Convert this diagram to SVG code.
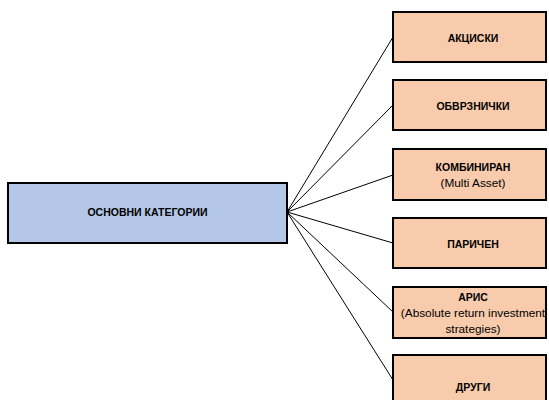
<svg xmlns="http://www.w3.org/2000/svg" width="549" height="400" viewBox="0 0 549 400">
<style>
.main{fill:#B4C7E7;stroke:#000;stroke-width:2}
.cat{fill:#F8CBAD;stroke:#000;stroke-width:2}
.b{font-family:"Liberation Sans",Arial,sans-serif;font-weight:bold;font-size:10.5px;fill:#000;text-anchor:middle}
.n{font-family:"Liberation Sans",Arial,sans-serif;font-size:11.8px;fill:#000;text-anchor:middle}
.c{stroke:#000;stroke-width:1;fill:none}
</style>
<rect width="549" height="400" fill="#fff"/>
<g id="connectors">
<line class="c" x1="287" y1="212" x2="393" y2="37"/>
<line class="c" x1="287" y1="212" x2="393" y2="105"/>
<line class="c" x1="287" y1="212" x2="393" y2="175"/>
<line class="c" x1="287" y1="212" x2="393" y2="243"/>
<line class="c" x1="287" y1="212" x2="393" y2="312"/>
<line class="c" x1="287" y1="212" x2="393" y2="380"/>
</g>
<g id="main">
<rect class="main" x="8" y="183" width="279" height="60"/>
<text class="b" x="147.5" y="216">ОСНОВНИ КАТЕГОРИИ</text>
</g>
<g id="akciski">
<rect class="cat" x="393" y="12" width="153" height="50"/>
<text class="b" x="473" y="42">АКЦИСКИ</text>
</g>
<g id="obvrznicki">
<rect class="cat" x="393" y="80" width="153" height="50"/>
<text class="b" x="473" y="110">ОБВРЗНИЧКИ</text>
</g>
<g id="kombiniran">
<rect class="cat" x="393" y="149" width="153" height="51"/>
<text class="b" x="473" y="171">КОМБИНИРАН</text>
<text class="n" x="473" y="187">(Multi Asset)</text>
</g>
<g id="paricen">
<rect class="cat" x="393" y="218" width="153" height="50"/>
<text class="b" x="473" y="248">ПАРИЧЕН</text>
</g>
<g id="aris">
<rect class="cat" x="393" y="287" width="153" height="51"/>
<text class="b" x="473" y="301">АРИС</text>
<text class="n" x="473" y="317">(Absolute return investment</text>
<text class="n" x="473" y="333">strategies)</text>
</g>
<g id="drugi">
<rect class="cat" x="393" y="355" width="153" height="50"/>
<text class="b" x="473" y="391">ДРУГИ</text>
</g>
</svg>
